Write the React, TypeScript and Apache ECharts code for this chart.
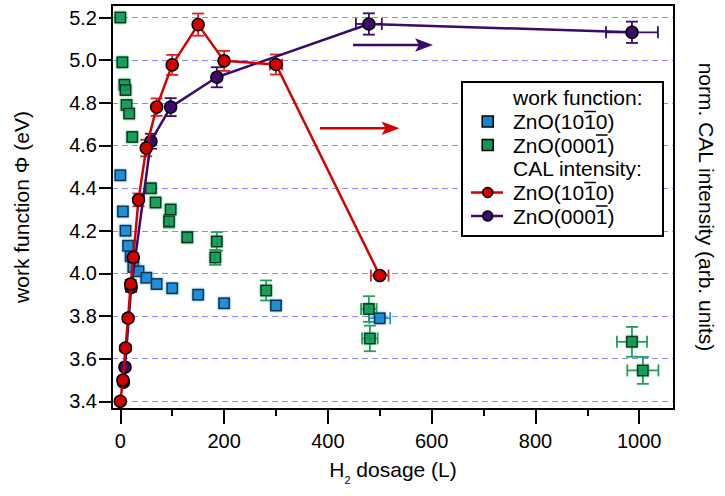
import React, { useEffect, useRef } from 'react';
import * as echarts from 'echarts';

const FONT = "'Liberation Sans', Arial, Helvetica, sans-serif";

// axis ranges and ticks
const X_MIN = -16;
const X_MAX = 1067;
const Y_MIN = 3.364;
const Y_MAX = 5.259;
const X_MAJOR = [0, 200, 400, 600, 800, 1000];
const X_MINOR = [100, 300, 500, 700, 900];
const Y_TICKS = [3.4, 3.6, 3.8, 4.0, 4.2, 4.4, 4.6, 4.8, 5.0, 5.2];

// work function, ZnO(10-10)
const wfAX = [0, 5, 10, 15, 20, 25, 35, 50, 70, 100, 150, 200, 300, 500];
const wfAY = [4.46, 4.29, 4.2, 4.13, 4.08, 4.03, 4.01, 3.98, 3.95, 3.93, 3.9, 3.86, 3.85, 3.79];
const wfAXErr = [0, 0, 0, 0, 0, 0, 0, 0, 0, 0, 0, 0, 0, 20];
const wfAYErr = [0, 0, 0, 0, 0, 0, 0, 0, 0, 0, 0, 0, 0, 0];

// work function, ZnO(000-1)
const wfBX = [0, 4, 8, 10, 12, 17, 23, 59, 68, 94, 97, 129, 183, 186, 281, 479, 481, 986, 1007];
const wfBY = [5.2, 4.99, 4.885, 4.86, 4.79, 4.75, 4.64, 4.4, 4.333, 4.245, 4.3, 4.17, 4.075, 4.15, 3.92, 3.833, 3.695, 3.679, 3.545];
const wfBXErr = [0, 0, 0, 0, 0, 0, 0, 0, 0, 0, 0, 0, 0, 0, 0, 15, 15, 29, 30];
const wfBYErr = [0, 0, 0, 0, 0, 0, 0, 0, 0, 0.03, 0, 0.025, 0.035, 0.044, 0.047, 0.06, 0.06, 0.07, 0.063];

// CAL intensity, ZnO(10-10)
const calAX = [0, 5, 10, 15, 20, 25, 35, 50, 70, 100, 150, 200, 300, 500];
const calAY = [3.4, 3.5, 3.65, 3.79, 3.95, 4.075, 4.345, 4.588, 4.78, 4.978, 5.167, 4.997, 4.98, 3.99];
const calAXErr = [0, 0, 0, 0, 0, 0, 0, 0, 0, 0, 0, 0, 12, 17];
const calAYErr = [0.01, 0.01, 0.015, 0.015, 0.02, 0.02, 0.03, 0.039, 0.041, 0.047, 0.052, 0.047, 0.047, 0.01];

// CAL intensity, ZnO(000-1)
const calBX = [6, 9, 21, 59, 97, 186, 479, 986];
const calBY = [3.49, 3.56, 3.934, 4.62, 4.78, 4.92, 5.17, 5.131];
const calBXErr = [0, 0, 0, 0, 0, 0, 25, 50];
const calBYErr = [0.01, 0.01, 0.02, 0.035, 0.042, 0.047, 0.05, 0.05];

const BLUE = '#1385d3';
const GREEN = '#0c9a52';
const RED = '#d40000';
const PURPLE = '#3b0a6c';

const zip2 = (xs: number[], ys: number[]) => xs.map((x, i) => [x, ys[i]]);
const zip4 = (xs: number[], ys: number[], xe: number[], ye: number[]) =>
  xs.map((x, i) => [x, ys[i], xe[i], ye[i]]);

function errorSeries(data: number[][], color: string, yAxisIndex: number) {
  const cap = 6;
  return {
    type: 'custom',
    yAxisIndex,
    z: 1,
    silent: true,
    data,
    encode: { x: 0, y: 1 },
    renderItem: (params: any, api: any) => {
      const x = api.value(0);
      const y = api.value(1);
      const xe = api.value(2);
      const ye = api.value(3);
      const c = api.coord([x, y]);
      const style = { stroke: color, lineWidth: 1.8, fill: 'none' };
      const children: any[] = [];
      const ln = (x1: number, y1: number, x2: number, y2: number) => ({
        type: 'line',
        shape: { x1, y1, x2, y2 },
        style,
      });
      if (ye > 0) {
        const t = api.coord([x, y + ye]);
        const b = api.coord([x, y - ye]);
        children.push(ln(c[0], t[1], c[0], b[1]));
        children.push(ln(c[0] - cap, t[1], c[0] + cap, t[1]));
        children.push(ln(c[0] - cap, b[1], c[0] + cap, b[1]));
      }
      if (xe > 0) {
        const l = api.coord([x - xe, y]);
        const r = api.coord([x + xe, y]);
        children.push(ln(l[0], c[1], r[0], c[1]));
        children.push(ln(l[0], c[1] - cap, l[0], c[1] + cap));
        children.push(ln(r[0], c[1] - cap, r[0], c[1] + cap));
      }
      return { type: 'group', children };
    },
  };
}

// legend layout (pixels)
const LEG = { x: 462, y: 82, w: 201, h: 154, textX: 513, markX: 487.7 };
const LEG_ROWS = [97.5, 121.5, 145, 168.5, 192.5, 216];

function buildGraphic() {
  const fontSize = 21;
  const txt = (text: string, y: number) => ({
    type: 'text',
    x: LEG.textX,
    y,
    z: 101,
    style: { text, font: `${fontSize}px ${FONT}`, fill: '#000', verticalAlign: 'middle', align: 'left' },
  });
  const ov = (x1: number, x2: number, y: number) => ({
    type: 'line',
    z: 102,
    shape: { x1, y1: y, x2, y2: y },
    style: { stroke: '#000', lineWidth: 1.5 },
  });
  const sq = (y: number, fill: string) => ({
    type: 'rect',
    z: 101,
    shape: { x: LEG.markX - 5.5, y: y - 5.5, width: 11, height: 11 },
    style: { fill, stroke: '#000', lineWidth: 1.5 },
  });
  const lineMark = (y: number, color: string) => [
    { type: 'line', z: 101, shape: { x1: 471, y1: y, x2: 503, y2: y }, style: { stroke: color, lineWidth: 2.5 } },
    { type: 'circle', z: 102, shape: { cx: LEG.markX, cy: y, r: 5 }, style: { fill: color, stroke: '#000', lineWidth: 1.5 } },
  ];
  const ovA = [584.2, 595.9];
  const ovB = [595.9, 607.6];
  const arrow = (x1: number, x2: number, y: number, color: string) => [
    { type: 'line', z: 100, shape: { x1, y1: y, x2: x2 - 12, y2: y }, style: { stroke: color, lineWidth: 2.5 } },
    {
      type: 'polygon',
      z: 100,
      shape: { points: [[x2, y], [x2 - 18, y - 6.8], [x2 - 14, y], [x2 - 18, y + 6.8]] },
      style: { fill: color },
    },
  ];
  return [
    ...arrow(353, 433, 45, PURPLE),
    ...arrow(320, 399.5, 128.3, RED),
    {
      type: 'rect',
      z: 100,
      shape: { x: LEG.x, y: LEG.y, width: LEG.w, height: LEG.h },
      style: { fill: '#fff', stroke: '#000', lineWidth: 2 },
    },
    txt('work function:', LEG_ROWS[0]),
    sq(LEG_ROWS[1], BLUE),
    txt('ZnO(1010)', LEG_ROWS[1]),
    ov(ovA[0], ovA[1], LEG_ROWS[1] - 10),
    sq(LEG_ROWS[2], GREEN),
    txt('ZnO(0001)', LEG_ROWS[2]),
    ov(ovB[0], ovB[1], LEG_ROWS[2] - 10),
    txt('CAL intensity:', LEG_ROWS[3]),
    ...lineMark(LEG_ROWS[4], RED),
    txt('ZnO(1010)', LEG_ROWS[4]),
    ov(ovA[0], ovA[1], LEG_ROWS[4] - 10),
    ...lineMark(LEG_ROWS[5], PURPLE),
    txt('ZnO(0001)', LEG_ROWS[5]),
    ov(ovB[0], ovB[1], LEG_ROWS[5] - 10),
  ];
}

export default function App() {
  const ref = useRef<HTMLDivElement>(null);
  useEffect(() => {
    if (!ref.current) return;
    const chart = echarts.init(ref.current, undefined, { renderer: 'svg' });
    const axisLineStyle = { color: '#000', width: 2 };
    const option: any = {
      animation: false,
      backgroundColor: '#fff',
      textStyle: { fontFamily: FONT },
      legend: { show: false },
      grid: {
        left: 112,
        right: 42,
        top: 5,
        bottom: 87,
        show: true,
        borderColor: '#000',
        borderWidth: 2,
        backgroundColor: 'transparent',
      },
      xAxis: [
        {
          type: 'value',
          min: X_MIN,
          max: X_MAX,
          position: 'bottom',
          axisLine: { show: true, onZero: false, lineStyle: axisLineStyle },
          axisTick: { show: true, inside: false, length: 15, customValues: X_MAJOR, lineStyle: axisLineStyle },
          axisLabel: {
            show: true,
            customValues: X_MAJOR,
            margin: 22,
            fontSize: 20,
            color: '#000',
            fontFamily: FONT,
            formatter: (v: number) => String(v),
          },
          splitLine: { show: false },
          name: 'H{sub|2} dosage (L)',
          nameLocation: 'middle',
          nameGap: 45,
          nameTextStyle: {
            fontSize: 21,
            color: '#000',
            fontFamily: FONT,
            rich: { sub: { fontSize: 11, fontFamily: FONT, color: '#000', padding: [20, 0, 0, 0] } },
          },
        },
        {
          type: 'value',
          min: X_MIN,
          max: X_MAX,
          position: 'bottom',
          axisLine: { show: false, onZero: false },
          axisTick: { show: true, inside: false, length: 7, customValues: X_MINOR, lineStyle: axisLineStyle },
          axisLabel: { show: false },
          splitLine: { show: false },
        },
      ],
      yAxis: [
        {
          type: 'value',
          min: Y_MIN,
          max: Y_MAX,
          position: 'left',
          axisLine: { show: true, onZero: false, lineStyle: axisLineStyle },
          axisTick: { show: true, inside: false, length: 13, customValues: Y_TICKS, lineStyle: axisLineStyle },
          axisLabel: {
            show: true,
            customValues: Y_TICKS,
            margin: 15,
            fontSize: 20,
            color: '#000',
            fontFamily: FONT,
            formatter: (v: number) => v.toFixed(1),
          },
          splitLine: { show: true, lineStyle: { color: '#8888ff', width: 1, type: [6, 4] } },
          name: 'work function Φ (eV)',
          nameLocation: 'middle',
          nameGap: 80,
          nameTextStyle: { fontSize: 21, color: '#000', fontFamily: FONT },
        },
        {
          type: 'value',
          min: Y_MIN,
          max: Y_MAX,
          position: 'right',
          axisLine: { show: true, onZero: false, lineStyle: axisLineStyle },
          axisTick: { show: false },
          axisLabel: { show: false },
          splitLine: { show: false },
          name: 'norm. CAL intensity (arb. units)',
          nameLocation: 'middle',
          nameRotate: -90,
          nameGap: 22,
          nameTextStyle: { fontSize: 21, color: '#000', fontFamily: FONT },
        },
      ],
      series: [
        errorSeries(zip4(wfAX, wfAY, wfAXErr, wfAYErr), '#2a90e0', 0),
        errorSeries(zip4(wfBX, wfBY, wfBXErr, wfBYErr), '#1fa062', 0),
        errorSeries(zip4(calBX, calBY, calBXErr, calBYErr), PURPLE, 1),
        errorSeries(zip4(calAX, calAY, calAXErr, calAYErr), '#e02020', 1),
        {
          name: 'work function ZnO(1010)',
          type: 'scatter',
          z: 2,
          symbol: 'rect',
          symbolSize: 10.5,
          data: zip2(wfAX, wfAY),
          itemStyle: { color: BLUE, borderColor: '#000', borderWidth: 1.5, shadowBlur: 2, shadowColor: 'rgba(40,150,230,0.9)' },
        },
        {
          name: 'work function ZnO(0001)',
          type: 'scatter',
          z: 2,
          symbol: 'rect',
          symbolSize: 10.5,
          data: zip2(wfBX, wfBY),
          itemStyle: { color: GREEN, borderColor: '#000', borderWidth: 1.5, shadowBlur: 2, shadowColor: 'rgba(30,160,90,0.9)' },
        },
        {
          name: 'CAL intensity ZnO(0001)',
          type: 'line',
          yAxisIndex: 1,
          z: 3,
          symbol: 'circle',
          symbolSize: 12,
          showSymbol: true,
          data: zip2(calBX, calBY),
          lineStyle: { color: PURPLE, width: 2.5 },
          itemStyle: { color: PURPLE, borderColor: '#000', borderWidth: 1.5 },
        },
        {
          name: 'CAL intensity ZnO(1010)',
          type: 'line',
          yAxisIndex: 1,
          z: 4,
          symbol: 'circle',
          symbolSize: 12,
          showSymbol: true,
          data: zip2(calAX, calAY),
          lineStyle: { color: RED, width: 2.5 },
          itemStyle: { color: RED, borderColor: '#000', borderWidth: 1.5 },
        },
      ],
      graphic: buildGraphic(),
    };
    chart.setOption(option);
    return () => chart.dispose();
  }, []);
  return (
    <div
      ref={ref}
      style={{ position: 'absolute', left: 0, top: 0, width: 725, height: 496 }}
    />
  );
}
